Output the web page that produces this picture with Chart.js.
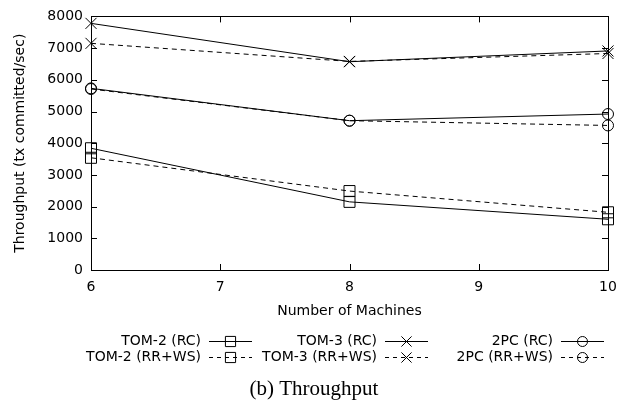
<!DOCTYPE html>
<html>
<head>
<meta charset="utf-8">
<script src="https://cdn.jsdelivr.net/npm/chart.js@4/dist/chart.umd.min.js"></script>
<style>
  html, body { margin: 0; padding: 0; background: #fff; }
  #wrap { width: 630px; height: 406px; }
</style>
</head>
<body>
<div id="wrap"><canvas id="chart" width="630" height="406"></canvas></div>
<script>
// values
var machines = [6, 8, 10];
var tom2RC   = [3840, 2150, 1600];
var tom2RRWS = [3540, 2490, 1820];
var tom3RC   = [7780, 6570, 6910];
var tom3RRWS = [7150, 6580, 6830];
var pc2RC    = [5730, 4710, 4920];
var pc2RRWS  = [5710, 4710, 4560];
var xTicks = [6, 7, 8, 9, 10];
var yTicks = [0, 1000, 2000, 3000, 4000, 5000, 6000, 7000, 8000];
var caption = "(b) Throughput";

var FONT = "'DejaVu Sans', sans-serif";

function series(label, values, style, dashed) {
    return {
        label: label,
        data: machines.map(function (m, i) { return { x: m, y: values[i] }; }),
        borderColor: '#000',
        borderWidth: 1,
        borderDash: dashed ? [5, 4] : [],
        pointStyle: style,
        pointRadius: style === 'circle' ? 5.5 : 7.8,
        pointBorderColor: '#000',
        pointBorderWidth: 1,
        pointBackgroundColor: 'rgba(0,0,0,0)',
        tension: 0,
        fill: false,
        clip: false
    };
}

function drawMarker(ctx, style, x, y, r) {
    ctx.beginPath();
    if (style === 'rect') {
        var s = r * Math.SQRT1_2;
        ctx.rect(x - s, y - s, 2 * s, 2 * s);
    } else if (style === 'crossRot') {
        var d = r * Math.SQRT1_2;
        ctx.moveTo(x - d, y - d); ctx.lineTo(x + d, y + d);
        ctx.moveTo(x - d, y + d); ctx.lineTo(x + d, y - d);
    } else {
        ctx.arc(x, y, r, 0, Math.PI * 2);
    }
    ctx.stroke();
}

// gnuplot style box, inner ticks, legend and caption
var gnuplotLook = {
    id: 'gnuplotLook',
    beforeDatasetsDraw: function (chart) {
        var ctx = chart.ctx, a = chart.chartArea;
        var xs = chart.scales.x, ys = chart.scales.y;
        var tl = 6;
        ctx.save();
        ctx.strokeStyle = '#000';
        ctx.lineWidth = 1;
        ctx.strokeRect(Math.round(a.left) + 0.5, Math.round(a.top) + 0.5,
            Math.round(a.right - a.left), Math.round(a.bottom - a.top));
        ctx.beginPath();
        xTicks.forEach(function (v) {
            var px = Math.round(xs.getPixelForValue(v)) + 0.5;
            ctx.moveTo(px, a.bottom); ctx.lineTo(px, a.bottom - tl);
            ctx.moveTo(px, a.top); ctx.lineTo(px, a.top + tl);
        });
        yTicks.forEach(function (v) {
            var py = Math.round(ys.getPixelForValue(v)) + 0.5;
            ctx.moveTo(a.left, py); ctx.lineTo(a.left + tl, py);
            ctx.moveTo(a.right, py); ctx.lineTo(a.right - tl, py);
        });
        ctx.stroke();
        ctx.restore();
    },
    afterDraw: function (chart) {
        var ctx = chart.ctx;
        var colRight = [201, 377, 553];
        var rowY = [341, 357];
        var sampleLen = 43;
        ctx.save();
        ctx.font = "14px " + FONT;
        ctx.fillStyle = '#000';
        ctx.strokeStyle = '#000';
        ctx.lineWidth = 1;
        ctx.textBaseline = 'middle';
        chart.data.datasets.forEach(function (ds, i) {
            var col = Math.floor(i / 2), row = i % 2;
            var tx = colRight[col], y = rowY[row];
            ctx.textAlign = 'right';
            ctx.fillText(ds.label, tx, y);
            var x0 = tx + 8, x1 = x0 + sampleLen;
            ctx.setLineDash(ds.borderDash.length ? [4, 4] : []);
            ctx.beginPath();
            ctx.moveTo(x0, y + 0.5); ctx.lineTo(x1, y + 0.5);
            ctx.stroke();
            ctx.setLineDash([]);
            drawMarker(ctx, ds.pointStyle, (x0 + x1) / 2, y + 0.5, ds.pointStyle === 'circle' ? 5 : 7.2);
        });
        ctx.font = "21px 'Liberation Serif', serif";
        ctx.textAlign = 'center';
        ctx.fillText(caption, 314, 389);
        ctx.restore();
    }
};

var chart = new Chart(document.getElementById('chart'), {
    type: 'line',
    data: {
        datasets: [
            series('TOM-2 (RC)', tom2RC, 'rect', false),
            series('TOM-2 (RR+WS)', tom2RRWS, 'rect', true),
            series('TOM-3 (RC)', tom3RC, 'crossRot', false),
            series('TOM-3 (RR+WS)', tom3RRWS, 'crossRot', true),
            series('2PC (RC)', pc2RC, 'circle', false),
            series('2PC (RR+WS)', pc2RRWS, 'circle', true)
        ]
    },
    options: {
        responsive: false,
        animation: false,
        layout: { padding: { top: 10, right: 22, bottom: 86, left: 0 } },
        plugins: {
            legend: { display: false },
            tooltip: { enabled: false }
        },
        scales: {
            x: {
                type: 'linear',
                min: 6, max: 10,
                afterBuildTicks: function (s) { s.ticks = xTicks.map(function (v) { return { value: v }; }); },
                afterFit: function (s) { s.height = 50; },
                grid: { display: false, drawTicks: false },
                border: { display: false },
                ticks: { color: '#000', font: { family: FONT, size: 14 }, padding: 9, maxRotation: 0,
                    callback: function (v) { return String(v); } },
                title: { display: true, text: 'Number of Machines', color: '#000',
                    font: { family: FONT, size: 14 }, padding: { top: 0, bottom: 0 } }
            },
            y: {
                min: 0, max: 8000,
                afterBuildTicks: function (s) { s.ticks = yTicks.map(function (v) { return { value: v }; }); },
                afterFit: function (s) { s.width = 91; },
                grid: { display: false, drawTicks: false },
                border: { display: false },
                ticks: { color: '#000', font: { family: FONT, size: 14 }, padding: 8,
                    callback: function (v) { return String(v); } },
                title: { display: true, text: 'Throughput (tx committed/sec)', color: '#000',
                    font: { family: FONT, size: 14 }, padding: { top: 12, bottom: 0 } }
            }
        }
    },
    plugins: [gnuplotLook]
});
</script>
</body>
</html>
